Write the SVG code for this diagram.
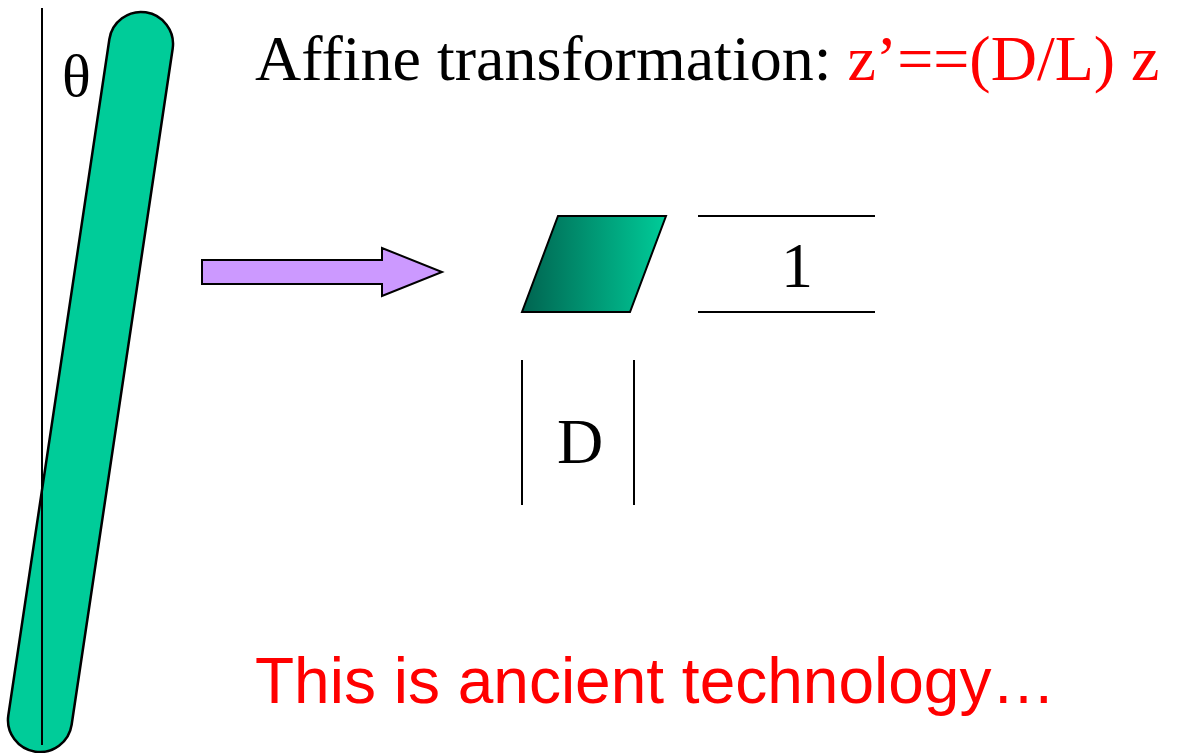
<svg xmlns="http://www.w3.org/2000/svg" width="1177" height="753" viewBox="0 0 1177 753">
<defs>
<linearGradient id="g1" x1="0" y1="0" x2="1" y2="0">
<stop offset="0" stop-color="#006450"/>
<stop offset="1" stop-color="#00CC99"/>
</linearGradient>
<style>
.serif{font-family:"Liberation Serif","Times New Roman",serif;font-size:64px}
.sans{font-family:"Liberation Sans",Arial,sans-serif;font-size:64px}
.ln{stroke:#000;stroke-width:2;fill:none}
</style>
</defs>
<rect width="1177" height="753" fill="#fff"/>
<g id="rod">
<rect x="58.5" y="8.25" width="64" height="747.5" rx="32" ry="32" fill="#00CC99" stroke="#000" stroke-width="2.5" transform="rotate(8.5 90.5 382)"/>
</g>
<g id="axis">
<line class="ln" x1="42" y1="8" x2="42" y2="745"/>
<text class="serif" x="62" y="96" style="font-size:60px">θ</text>
</g>
<g id="title">
<text class="serif" x="255" y="80">Affine transformation: <tspan fill="#FF0000">z’==(D/L) z</tspan></text>
</g>
<g id="connectors">
<polygon points="202,260 382,260 382,248 442,272 382,296 382,284 202,284" fill="#CC99FF" stroke="#000" stroke-width="2"/>
</g>
<g id="parallelogram">
<polygon points="558,216 666,216 630,312 522,312" fill="url(#g1)" stroke="#000" stroke-width="2"/>
</g>
<g id="one">
<line class="ln" x1="698" y1="216" x2="875" y2="216"/>
<line class="ln" x1="698" y1="312" x2="875" y2="312"/>
<text class="serif" x="797" y="287" text-anchor="middle">1</text>
</g>
<g id="dee">
<line class="ln" x1="522" y1="360" x2="522" y2="505"/>
<line class="ln" x1="634" y1="360" x2="634" y2="505"/>
<text class="serif" x="580" y="463" text-anchor="middle">D</text>
</g>
<g id="note">
<text class="sans" x="255" y="703" fill="#FF0000">This is ancient technology…</text>
</g>
</svg>
